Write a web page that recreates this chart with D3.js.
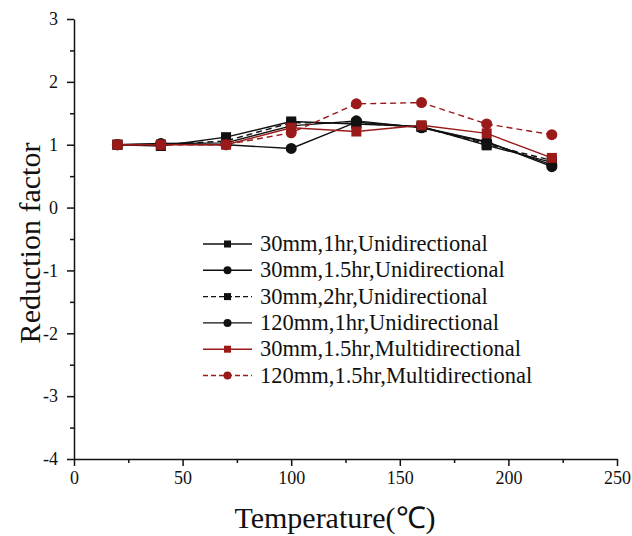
<!DOCTYPE html>
<meta charset="utf-8">
<style>
body { margin: 0; background: #fff; }
text { font-family: "Liberation Serif", "Times New Roman", serif; fill: #111; }
.axis path, .axis line { stroke: #111; stroke-width: 1.5px; }
</style>
<svg width="632" height="536"></svg>
<script src="https://d3js.org/d3.v7.min.js"></script>
<script>

var temps = [20, 40, 70, 100, 130, 160, 190, 220];

var names = [
  "30mm,1hr,Unidirectional",
  "30mm,1.5hr,Unidirectional",
  "30mm,2hr,Unidirectional",
  "120mm,1hr,Unidirectional",
  "30mm,1.5hr,Multidirectional",
  "120mm,1.5hr,Multidirectional"
];

var s30_1h_uni   = [1.00, 0.98, 1.12, 1.37, 1.33, 1.29, 0.99, 0.72];
var s30_15h_uni  = [1.00, 1.02, 1.03, 1.30, 1.38, 1.27, 1.04, 0.68];
var s30_2h_uni   = [1.00, 1.00, 1.06, 1.35, 1.34, 1.28, 1.01, 0.75];
var s120_1h_uni  = [1.00, 1.01, 1.00, 0.94, 1.36, 1.28, 1.05, 0.65];
var s30_15h_mul  = [1.00, 1.00, 1.00, 1.27, 1.21, 1.31, 1.18, 0.79];
var s120_15h_mul = [1.00, 1.00, 1.00, 1.19, 1.65, 1.67, 1.33, 1.16];

var series = [s30_1h_uni, s30_15h_uni, s30_2h_uni, s120_1h_uni, s30_15h_mul, s120_15h_mul];
var colors = ["#111", "#111", "#111", "#111", "#9a1a1a", "#9a1a1a"];
var shapes = ["square", "circle", "square", "circle", "square", "circle"];
var dashed = [false, false, true, false, false, true];

var xTicks = [0, 50, 100, 150, 200, 250];
var yTicks = [-4, -3, -2, -1, 0, 1, 2, 3];

var svg = d3.select("svg");
var mLeft = 74, mRight = 617, mTop = 19, mBottom = 459;

var x = d3.scaleLinear().domain([0, 250]).range([mLeft, mRight]);
var y = d3.scaleLinear().domain([-4, 3]).range([mBottom, mTop]);

var fmt = function(d) { return String(d); };

// minor ticks
var xMinor = d3.range(25, 250, 50);
var yMinor = d3.range(-3.5, 3, 1);

svg.append("g").attr("class", "axis")
    .attr("transform", "translate(0," + mBottom + ")")
    .call(d3.axisBottom(x).tickValues(xMinor).tickSize(4).tickFormat(""))
    .select(".domain").remove();
svg.append("g").attr("class", "axis")
    .attr("transform", "translate(" + mLeft + ",0)")
    .call(d3.axisLeft(y).tickValues(yMinor).tickSize(4).tickFormat(""))
    .select(".domain").remove();

var xa = svg.append("g").attr("class", "axis")
    .attr("transform", "translate(0," + mBottom + ")")
    .call(d3.axisBottom(x).tickValues(xTicks).tickFormat(fmt).tickSize(7).tickSizeOuter(0).tickPadding(5));
xa.attr("font-family", "Liberation Serif").attr("font-size", 18);
xa.selectAll("text").attr("fill", "#111");

var ya = svg.append("g").attr("class", "axis")
    .attr("transform", "translate(" + mLeft + ",0)")
    .call(d3.axisLeft(y).tickValues(yTicks).tickFormat(fmt).tickSize(7).tickSizeOuter(0).tickPadding(9));
ya.attr("font-family", "Liberation Serif").attr("font-size", 18);
ya.selectAll("text").attr("fill", "#111");

svg.append("text")
    .attr("x", 335).attr("y", 528)
    .attr("text-anchor", "middle").attr("font-size", 30)
    .text("Temperature(℃)");

svg.append("text")
    .attr("transform", "translate(40,243) rotate(-90)")
    .attr("text-anchor", "middle").attr("font-size", 30)
    .text("Reduction factor");

var line = d3.line()
    .x(function(d, i) { return x(temps[i]); })
    .y(function(d) { return y(d); });

function marker(g, shape, color, cx, cy, s) {
  if (shape === "square") {
    g.append("rect").attr("x", cx - s / 2).attr("y", cy - s / 2)
      .attr("width", s).attr("height", s).attr("fill", color);
  } else {
    g.append("circle").attr("cx", cx).attr("cy", cy).attr("r", s / 2 + 0.5).attr("fill", color);
  }
}

series.forEach(function(vals, k) {
  var g = svg.append("g");
  g.append("path").datum(vals)
    .attr("d", line)
    .attr("fill", "none")
    .attr("stroke", colors[k])
    .attr("stroke-width", 1.4)
    .attr("stroke-dasharray", dashed[k] ? "6,4" : null);
  vals.forEach(function(v, i) {
    marker(g, shapes[k], colors[k], x(temps[i]), y(v), 10);
  });
});

// legend
var lg = svg.append("g");
names.forEach(function(n, k) {
  var yy = 244 + k * 26.3;
  lg.append("line").attr("x1", 203).attr("x2", 252).attr("y1", yy).attr("y2", yy)
    .attr("stroke", colors[k]).attr("stroke-width", 1.4)
    .attr("stroke-dasharray", dashed[k] ? "5,3" : null);
  marker(lg, shapes[k], colors[k], 227.5, yy, 7);
  lg.append("text").attr("x", 260).attr("y", yy + 7)
    .attr("font-size", 22.5).text(n);
});

</script>
